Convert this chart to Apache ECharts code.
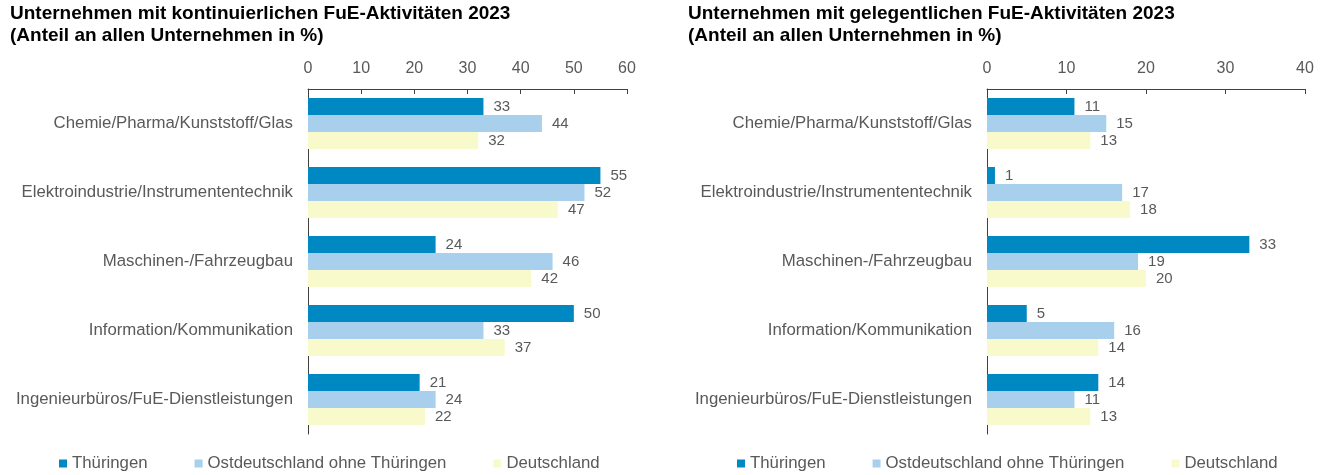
<!DOCTYPE html>
<html>
<head>
<meta charset="utf-8">
<script src="https://cdn.jsdelivr.net/npm/echarts@6/dist/echarts.min.js"></script>
<style>
  html, body { margin: 0; padding: 0; background: #fff; }
  #main { width: 1328px; height: 475px; }
</style>
</head>
<body>
<div id="main"></div>
<script>
const categories = [
  'Chemie/Pharma/Kunststoff/Glas',
  'Elektroindustrie/Instrumententechnik',
  'Maschinen-/Fahrzeugbau',
  'Information/Kommunikation',
  'Ingenieurbüros/FuE-Dienstleistungen'
]
const seriesNames = ['Thüringen', 'Ostdeutschland ohne Thüringen', 'Deutschland']
const colors = ['#0088c2', '#a8cfeb', '#f8facc']

// kontinuierliche FuE-Aktivitäten
const contThueringen = [33, 55, 24, 50, 21]
const contOst = [44, 52, 46, 33, 24]
const contDeutschland = [32, 47, 42, 37, 22]

// gelegentliche FuE-Aktivitäten
const occThueringen = [11, 1, 33, 5, 14]
const occOst = [15, 17, 19, 16, 11]
const occDeutschland = [13, 18, 20, 14, 13]

const FONT = 'Liberation Sans, Arial, sans-serif'
const GREY = '#595959'

const chart = echarts.init(document.getElementById('main'))

const grids = [
  { left: 308, right: 701, top: 89, bottom: 41 },
  { left: 987, right: 23, top: 89, bottom: 41 }
]

const xAxisMax = [60, 40]

const makeX = (i) => ({
  type: 'value',
  gridIndex: i,
  position: 'top',
  min: 0,
  max: xAxisMax[i],
  interval: 10,
  axisLine: { show: true, lineStyle: { color: '#404040', width: 1 } },
  axisTick: { show: true, inside: true, length: 5, lineStyle: { color: '#404040' } },
  axisLabel: { color: GREY, fontFamily: FONT, fontSize: 16, margin: 12 },
  splitLine: { show: false }
})

const makeY = (i) => ({
  type: 'category',
  gridIndex: i,
  inverse: true,
  data: categories,
  axisLine: { show: true, lineStyle: { color: '#404040', width: 1 } },
  axisTick: { show: false },
  axisLabel: { color: GREY, fontFamily: FONT, fontSize: 16.8, margin: 15 }
})

const makeSeries = (i, name, data, color) => ({
  name: name,
  type: 'bar',
  xAxisIndex: i,
  yAxisIndex: i,
  data: data,
  barWidth: 17,
  barGap: '0%',
  itemStyle: { color: color },
  label: {
    show: true,
    position: 'right',
    distance: 10,
    color: GREY,
    fontFamily: FONT,
    fontSize: 15
  }
})

const legendBase = {
  data: seriesNames,
  icon: 'rect',
  itemWidth: 8,
  itemHeight: 8,
  itemGap: 47,
  top: 450,
  textStyle: { color: GREY, fontFamily: FONT, fontSize: 16.8 }
}

const titleStyle = { color: '#000', fontFamily: FONT, fontSize: 19, fontWeight: 'bold', lineHeight: 22 }

chart.setOption({
  animation: false,
  color: colors,
  title: [
    {
      text: 'Unternehmen mit kontinuierlichen FuE-Aktivitäten 2023\n(Anteil an allen Unternehmen in %)',
      left: 10, top: 3, padding: 0,
      textStyle: titleStyle
    },
    {
      text: 'Unternehmen mit gelegentlichen FuE-Aktivitäten 2023\n(Anteil an allen Unternehmen in %)',
      left: 688, top: 3, padding: 0,
      textStyle: titleStyle
    }
  ],
  legend: [
    Object.assign({}, legendBase, { left: 54 }),
    Object.assign({}, legendBase, { left: 732 })
  ],
  grid: grids,
  xAxis: [makeX(0), makeX(1)],
  yAxis: [makeY(0), makeY(1)],
  series: [
    makeSeries(0, seriesNames[0], contThueringen, colors[0]),
    makeSeries(0, seriesNames[1], contOst, colors[1]),
    makeSeries(0, seriesNames[2], contDeutschland, colors[2]),
    makeSeries(1, seriesNames[0], occThueringen, colors[0]),
    makeSeries(1, seriesNames[1], occOst, colors[1]),
    makeSeries(1, seriesNames[2], occDeutschland, colors[2])
  ]
})
</script>
</body>
</html>
